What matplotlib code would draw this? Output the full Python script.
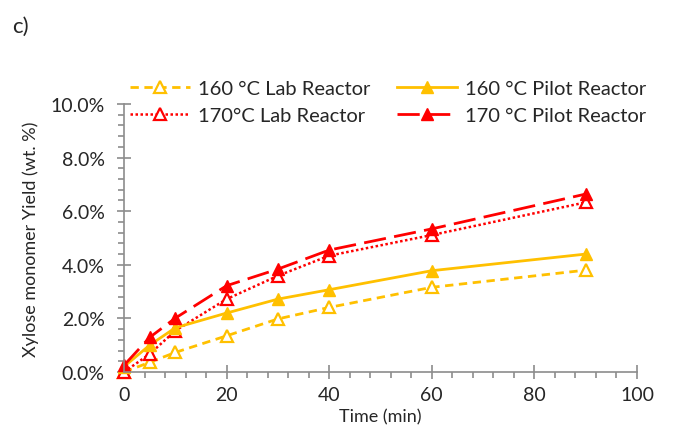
import matplotlib
matplotlib.use("Agg")
import matplotlib.pyplot as plt
from matplotlib.ticker import MultipleLocator, FuncFormatter

plt.rcParams['font.family'] = ['Lato', 'DejaVu Sans']

time_min = [0, 5, 10, 20, 30, 40, 60, 90]
lab_160 = [0.00, 0.36, 0.73, 1.35, 1.98, 2.41, 3.16, 3.80]
lab_170 = [0.00, 0.67, 1.54, 2.72, 3.59, 4.34, 5.11, 6.33]
pilot_160 = [0.20, 1.00, 1.65, 2.20, 2.72, 3.07, 3.78, 4.40]
pilot_170 = [0.25, 1.29, 2.01, 3.22, 3.84, 4.55, 5.34, 6.64]

labels = ["160 °C Lab Reactor", "170°C Lab Reactor",
          "160 °C Pilot Reactor", "170 °C Pilot Reactor"]

GOLD = "#FFC000"
RED = "#FF0000"
AXIS = "#8c8c8c"
TEXT = "#262626"

fig = plt.figure(figsize=(6.82, 4.39), dpi=100)
ax = fig.add_axes([124 / 682, 1 - 373 / 439, (637 - 124) / 682, (373 - 105) / 439])

l1, = ax.plot(time_min, lab_160, color=GOLD, lw=2, ls=(0, (3, 2)),
              marker="^", ms=8, mfc="white", mec=GOLD, mew=1.6, label=labels[0])
l2, = ax.plot(time_min, lab_170, color=RED, lw=1.8, ls=(0, (1, 1)),
              marker="^", ms=8, mfc="white", mec=RED, mew=1.6, label=labels[1])
l3, = ax.plot(time_min, pilot_160, color=GOLD, lw=2, ls="-",
              marker="^", ms=8, mfc=GOLD, mec=GOLD, label=labels[2])
l4, = ax.plot(time_min, pilot_170, color=RED, lw=2, ls=(0, (8, 3)),
              marker="^", ms=9, mfc=RED, mec=RED, label=labels[3])

ax.set_xlim(0, 100)
ax.set_ylim(0, 10)
for side in ("top", "right"):
    ax.spines[side].set_visible(False)
for side in ("left", "bottom"):
    ax.spines[side].set_color(AXIS)
    ax.spines[side].set_linewidth(1.2)
for ln in ax.lines:
    ln.set_clip_on(False)

ax.xaxis.set_major_locator(MultipleLocator(20))
ax.xaxis.set_minor_locator(MultipleLocator(4))
ax.yaxis.set_major_locator(MultipleLocator(2))
ax.yaxis.set_minor_locator(MultipleLocator(0.4))
ax.yaxis.set_major_formatter(FuncFormatter(lambda v, p: f"{v:.1f}%"))

ax.tick_params(axis="both", which="major", direction="inout", length=10,
               width=1.2, color=AXIS, labelsize=14, labelcolor=TEXT)
ax.tick_params(axis="both", which="minor", direction="out", length=4,
               width=1.2, color=AXIS)
ax.tick_params(axis="x", which="major", pad=5)
ax.tick_params(axis="y", which="major", pad=9)

ax.set_xlabel("Time (min)", fontsize=13, color=TEXT, labelpad=4)
ax.set_ylabel("Xylose monomer Yield (wt. %)", fontsize=13, color=TEXT, labelpad=8)

fig.legend(handles=[l1, l2, l3, l4], labels=labels, loc="center",
           bbox_to_anchor=(388 / 682, 1 - 103 / 439), ncol=2, frameon=False,
           fontsize=14.5, handlelength=3.0, handletextpad=0.4, columnspacing=1.3,
           labelspacing=0.5, labelcolor=TEXT)

fig.text(12 / 682, 1 - 27 / 439, "c)", fontsize=16, va="center", ha="left", color=TEXT)

fig.savefig("out.png", dpi=100)
